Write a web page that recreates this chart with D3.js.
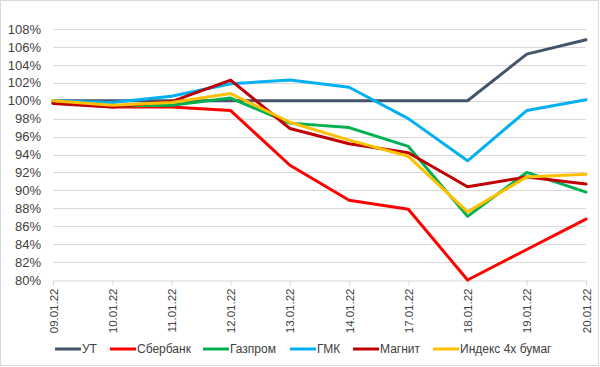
<!DOCTYPE html>
<html>
<head>
<meta charset="utf-8">
<script src="https://cdn.jsdelivr.net/npm/d3@7"></script>
<style>
  body { margin: 0; background: #fff; }
  text { font-family: "Liberation Sans", Arial, sans-serif; fill: #404040; }
</style>
</head>
<body>
<div class="chart"></div>
<script>
var svgWidth = 600;
var svgHeight = 367;

var margin = { top: 29, right: 14, bottom: 87, left: 53 };
var width = svgWidth - margin.left - margin.right;
var height = svgHeight - margin.top - margin.bottom;

// data
var dates = ["09.01.22", "10.01.22", "11.01.22", "12.01.22", "13.01.22",
             "14.01.22", "17.01.22", "18.01.22", "19.01.22", "20.01.22"];
var seriesNames = ["УТ", "Сбербанк", "Газпром", "ГМК", "Магнит", "Индекс 4х бумаг"];
var seriesColors = ["#44546A", "#FF0000", "#00B050", "#00B0F0", "#C00000", "#FFC000"];

var ut       = [100.0, 100.0, 100.0, 100.0, 100.0, 100.0, 100.0, 100.0, 105.2, 106.8];
var sber     = [99.8, 99.3, 99.3, 98.9, 92.8, 88.9, 87.9, 80.0, 83.4, 86.8];
var gazprom  = [99.8, 99.4, 99.5, 100.3, 97.5, 97.0, 94.9, 87.1, 92.0, 89.8];
var gmk      = [100.0, 99.8, 100.5, 101.9, 102.3, 101.5, 98.0, 93.3, 98.9, 100.1];
var magnit   = [99.7, 99.3, 99.9, 102.3, 96.9, 95.2, 94.2, 90.4, 91.5, 90.7];
var index4   = [100.0, 99.5, 99.8, 100.8, 97.6, 95.6, 93.8, 87.6, 91.5, 91.8];

var yTicks = [80, 82, 84, 86, 88, 90, 92, 94, 96, 98, 100, 102, 104, 106, 108];

var allSeries = [ut, sber, gazprom, gmk, magnit, index4];

var svg = d3.select(".chart").append("svg")
  .attr("width", svgWidth)
  .attr("height", svgHeight);

// chart border
svg.append("rect")
  .attr("x", 0.5).attr("y", 0.5)
  .attr("width", svgWidth - 2).attr("height", svgHeight - 2)
  .attr("fill", "#fff")
  .attr("stroke", "#d9d9d9");

var chartGroup = svg.append("g")
  .attr("transform", `translate(${margin.left}, ${margin.top})`);

var xScale = d3.scalePoint()
  .domain(dates)
  .range([0, width]);

var yScale = d3.scaleLinear()
  .domain([80, 108])
  .range([height, 0]);

// gridlines
chartGroup.append("g")
  .selectAll("line")
  .data(yTicks.filter(d => d > 80))
  .enter()
  .append("line")
  .attr("x1", 0).attr("x2", width)
  .attr("y1", d => Math.round(yScale(d)) + 0.5)
  .attr("y2", d => Math.round(yScale(d)) + 0.5)
  .attr("stroke", "#d9d9d9");

// y axis labels
var leftAxis = d3.axisLeft(yScale)
  .tickValues(yTicks)
  .tickSize(0)
  .tickPadding(12)
  .tickFormat(d => d + "%");

var yAxis = chartGroup.append("g").call(leftAxis);
yAxis.select(".domain").remove();
yAxis.selectAll("text")
  .attr("font-size", 13)
  .style("font-family", "Liberation Sans, Arial, sans-serif")
  .attr("fill", "#404040");

// x axis
var bottomAxis = d3.axisBottom(xScale).tickSize(5).tickSizeOuter(0);
var xAxis = chartGroup.append("g")
  .attr("transform", `translate(0, ${Math.round(height) + 0.5})`)
  .call(bottomAxis);
xAxis.select(".domain").attr("stroke", "#d9d9d9");
xAxis.selectAll(".tick line").attr("stroke", "#d9d9d9");
xAxis.selectAll("text")
  .attr("font-size", 11.5)
  .style("font-family", "Liberation Sans, Arial, sans-serif")
  .attr("fill", "#404040")
  .attr("transform", "rotate(-90)")
  .attr("text-anchor", "end")
  .attr("x", -8)
  .attr("y", 0)
  .attr("dy", "0.35em");

// lines
var line = d3.line()
  .x((d, i) => xScale(dates[i]))
  .y(d => yScale(d));

chartGroup.append("g")
  .selectAll("path")
  .data(allSeries)
  .enter()
  .append("path")
  .attr("d", d => line(d))
  .attr("fill", "none")
  .attr("stroke", (d, i) => seriesColors[i])
  .attr("stroke-width", 3)
  .attr("stroke-linejoin", "round")
  .attr("stroke-linecap", "round");

// legend
var legendX = [55, 110, 203, 290, 353, 433];
var legend = svg.append("g").attr("transform", "translate(0, 349)");
var items = legend.selectAll("g")
  .data(seriesNames)
  .enter()
  .append("g")
  .attr("transform", (d, i) => `translate(${legendX[i]}, 0)`);

items.append("line")
  .attr("x1", 0).attr("x2", 26)
  .attr("y1", 0).attr("y2", 0)
  .attr("stroke", (d, i) => seriesColors[i])
  .attr("stroke-width", 3);

items.append("text")
  .attr("x", 27)
  .attr("y", 0)
  .attr("dy", "0.35em")
  .attr("font-size", 12)
  .text(d => d);
</script>
</body>
</html>
